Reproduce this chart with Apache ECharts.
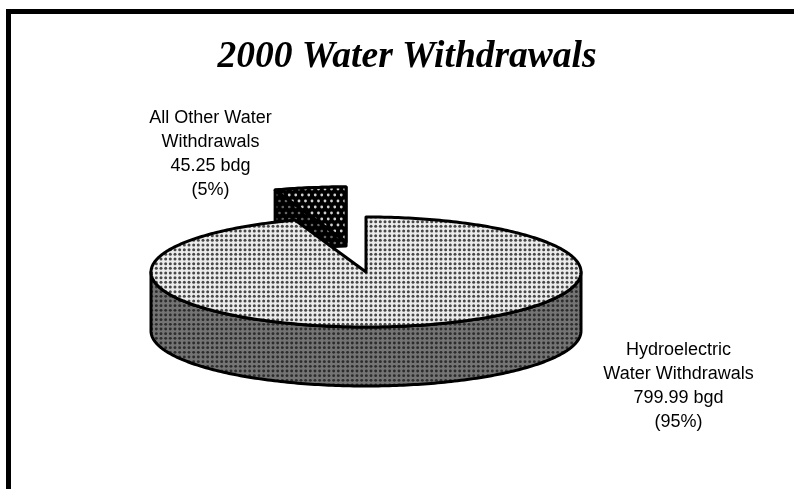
<!DOCTYPE html>
<html>
<head>
<meta charset="utf-8">
<style>
  html, body { margin: 0; padding: 0; background: #fff; }
  #chart { width: 794px; height: 489px; }
</style>
<script src="https://cdn.jsdelivr.net/npm/echarts@6/dist/echarts.min.js"></script>
</head>
<body>
<div id="chart"></div>
<script>
const chartTitle = '2000 Water Withdrawals'
// drawn back to front: the pulled out slice sits behind the big one
const sliceNames = ['All Other Water Withdrawals', 'Hydroelectric Water Withdrawals']
const sliceValues = [45.25, 799.99]
const sliceLabels = [
  'All Other Water\nWithdrawals\n45.25 bdg\n(5%)',
  'Hydroelectric\nWater Withdrawals\n799.99 bgd\n(95%)'
]

const cx = 366, cy = 272, rx = 215, ry = 55, depth = 59
const explode = 119
const labelPos = [[210.5, 154.5], [678.5, 386]]

// square dot screen, 3 dots per 14px like the scanned original
function gridTile (bg, dot, r) {
  const c = document.createElement('canvas')
  c.width = c.height = 14
  const g = c.getContext('2d')
  g.fillStyle = bg
  g.fillRect(0, 0, 14, 14)
  g.fillStyle = dot
  for (let i = 0; i < 3; i++) {
    for (let j = 0; j < 3; j++) {
      g.beginPath()
      g.arc(2.33 + i * 4.67, 2.33 + j * 4.67, r, 0, Math.PI * 2)
      g.fill()
    }
  }
  return { image: c, repeat: 'repeat' }
}

// staggered dots for the dark slice
function staggerTile (bg, dot, r) {
  const c = document.createElement('canvas')
  c.width = 13
  c.height = 12
  const g = c.getContext('2d')
  g.fillStyle = bg
  g.fillRect(0, 0, 13, 12)
  g.fillStyle = dot
  const pts = [[3.25, 3], [9.75, 3], [0, 9], [6.5, 9], [13, 9]]
  pts.forEach(p => {
    g.beginPath()
    g.arc(p[0], p[1], r, 0, Math.PI * 2)
    g.fill()
  })
  return { image: c, repeat: 'repeat' }
}

const topFill = gridTile('#ececec', '#484848', 1.5)
const wallFill = gridTile('#747474', '#2c2c2c', 1.45)
const darkFill = staggerTile('#000000', '#d0d0d0', 1.4)
const darkWallFill = staggerTile('#000000', '#666666', 1.3)

// angle is clockwise from 12 o'clock
function onRim (a, ox, oy) {
  return [ox + rx * Math.sin(a), oy - ry * Math.cos(a)]
}

function arcPoints (a0, a1, ox, oy) {
  const pts = []
  const n = Math.max(2, Math.ceil(Math.abs(a1 - a0) * 60))
  for (let i = 0; i <= n; i++) {
    pts.push(onRim(a0 + (a1 - a0) * i / n, ox, oy))
  }
  return pts
}

const total = sliceValues.reduce((a, b) => a + b, 0)
const TAU = Math.PI * 2
const mainEnd = sliceValues[1] / total * TAU

function renderItem (params, api) {
  const idx = params.dataIndex
  const value = api.value(0)
  const sweep = value / total * TAU
  const children = []
  const line = { stroke: '#000', lineWidth: 3, lineJoin: 'round' }

  if (idx === 0) {
    // small slice, pulled out along its middle angle
    const mid = mainEnd + sweep / 2
    const ox = cx + Math.sin(mid) * explode
    const oy = cy - Math.cos(mid) * explode * ry / rx
    const rim = arcPoints(mainEnd, TAU, ox, oy)
    const left = rim[0]
    const right = rim[rim.length - 1]
    children.push({
      type: 'polygon',
      shape: { points: rim.concat([[right[0], right[1] + depth], [left[0], left[1] + depth]]) },
      style: Object.assign({ fill: darkWallFill }, line)
    })
    children.push({
      type: 'polygon',
      shape: { points: rim.concat([[ox, oy]]) },
      style: Object.assign({ fill: darkFill }, line)
    })
  } else {
    // side wall only along the front half, top face goes over it
    const front = arcPoints(Math.PI / 2, Math.PI * 3 / 2, cx, cy)
    const lower = front.map(p => [p[0], p[1] + depth]).reverse()
    children.push({
      type: 'polygon',
      shape: { points: front.concat(lower) },
      style: Object.assign({ fill: wallFill }, line)
    })
    children.push({
      type: 'polygon',
      shape: { points: arcPoints(0, sweep, cx, cy).concat([[cx, cy]]) },
      style: Object.assign({ fill: topFill }, line)
    })
  }

  children.push({
    type: 'text',
    style: {
      x: labelPos[idx][0],
      y: labelPos[idx][1],
      text: sliceLabels[idx],
      align: 'center',
      verticalAlign: 'middle',
      font: '18px "Liberation Sans", Arial, sans-serif',
      lineHeight: 24,
      fill: '#000'
    }
  })
  return { type: 'group', children: children }
}

const chart = echarts.init(document.getElementById('chart'))
chart.setOption({
  animation: false,
  backgroundColor: '#fff',
  title: {
    text: chartTitle,
    left: 402,
    top: 33,
    textAlign: 'center',
    textStyle: {
      fontFamily: '"Liberation Serif", serif',
      fontStyle: 'italic',
      fontWeight: 'bold',
      fontSize: 37.5,
      color: '#000'
    }
  },
  graphic: [{
    type: 'polyline',
    shape: { points: [[8.5, 489], [8.5, 11.5], [794, 11.5]] },
    style: { fill: 'none', stroke: '#000', lineWidth: 5 }
  }],
  series: [{
    type: 'custom',
    coordinateSystem: 'none',
    renderItem: renderItem,
    data: sliceValues.map((v, i) => ({ name: sliceNames[i], value: [v] }))
  }]
})
</script>
</body>
</html>
